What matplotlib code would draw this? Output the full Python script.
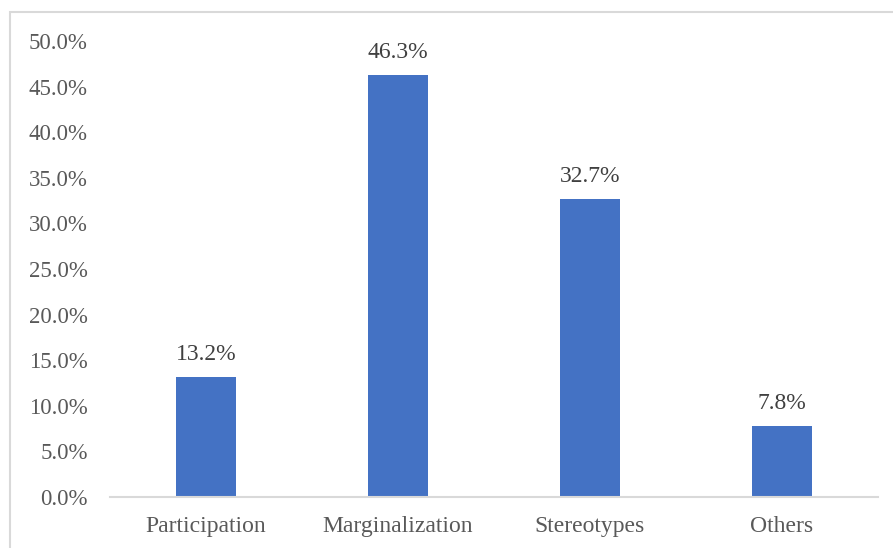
import matplotlib
matplotlib.use("Agg")
import matplotlib.pyplot as plt
from matplotlib.patches import Rectangle

categories = ["Participation", "Marginalization", "Stereotypes", "Others"]
values = [13.2, 46.3, 32.7, 7.8]
yticks = [0, 5, 10, 15, 20, 25, 30, 35, 40, 45, 50]

plt.rcParams['font.family'] = ['Liberation Serif', 'DejaVu Serif']

W, H = 893, 548
fig = plt.figure(figsize=(W / 100, H / 100), dpi=100)
fig.patches.append(Rectangle((10 / W, -0.1), 1.2, (548 - 12) / H + 0.1,
                             transform=fig.transFigure, fill=False,
                             edgecolor='#d9d9d9', linewidth=1.5))
ax = fig.add_axes([110 / W, (548 - 497) / H, (878 - 110) / W, (497 - 41) / H])

x = range(len(categories))
ax.bar(x, values, width=0.3125, color='#4472C4')
for xi, v in zip(x, values):
    ax.annotate(f"{v:.1f}%", (xi, v), xytext=(0, 8.5), textcoords='offset points',
                ha='center', va='bottom', fontsize=17, color='#404040')

ax.set_xlim(-0.5, len(categories) - 0.5)
ax.set_ylim(0, 50)
ax.set_yticks(yticks)
ax.set_yticklabels([f"{t:.1f}%" for t in yticks])
ax.set_xticks(list(x))
ax.set_xticklabels(categories)
ax.tick_params(axis='both', length=0, labelsize=17, colors='#595959')
ax.tick_params(axis='y', pad=16, labelsize=16.5)
ax.tick_params(axis='x', pad=14)
for s in ['top', 'right', 'left']:
    ax.spines[s].set_visible(False)
ax.spines['bottom'].set_color('#d9d9d9')
ax.spines['bottom'].set_linewidth(1.5)

fig.savefig("out.png", dpi=100)
